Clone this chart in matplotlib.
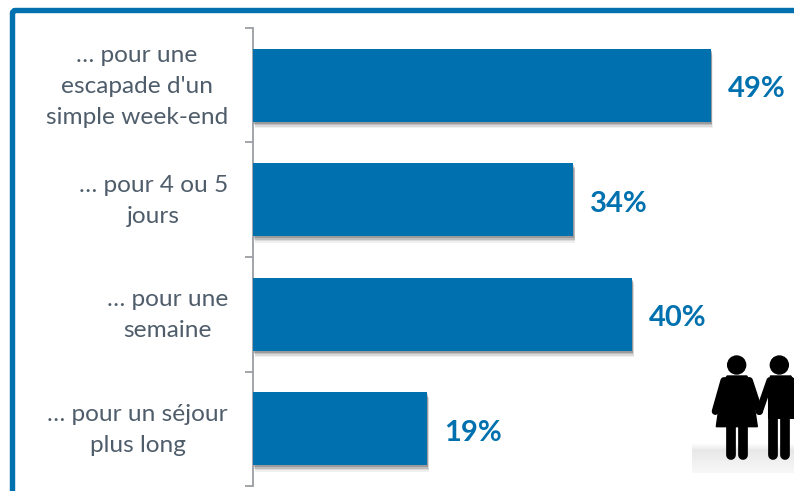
import numpy as np
import matplotlib
matplotlib.use("Agg")
import matplotlib.pyplot as plt
import matplotlib.patheffects as pe
from matplotlib.patches import Circle, Polygon, FancyBboxPatch

categories = ["… pour une\nescapade d'un\nsimple week-end", "… pour 4 ou 5\njours",
              "… pour une\nsemaine", "… pour un séjour\nplus long"]
values = [48.9, 34.2, 40.5, 18.6]
value_labels = ["49%", "34%", "40%", "19%"]

W, H = 794, 491
BLUE = "#0071AE"
TEXT = "#4F5D6B"
GRAY = "#9A9DA1"
plt.rcParams['font.family'] = ['Lato', 'DejaVu Sans']

fig = plt.figure(figsize=(W/100, H/100), dpi=100, facecolor="white")

ov = fig.add_axes([0, 0, 1, 1], zorder=0)
ov.set_xlim(0, W); ov.set_ylim(H, 0); ov.axis("off")
ov.add_patch(FancyBboxPatch((12.5, 10.5), W+40, H+40, boxstyle="round,pad=0,rounding_size=3",
                            fc="white", ec=BLUE, lw=3.9, clip_on=True))

left, right, top, bottom = 253, 784, 28, 486
ax = fig.add_axes([left/W, 1-bottom/H, (right-left)/W, (bottom-top)/H], zorder=2)
ax.patch.set_alpha(0)
y = np.arange(len(values))
bars = ax.barh(y, values, height=0.64, color=BLUE, zorder=3)
for b in bars:
    b.set_path_effects([
        pe.SimplePatchShadow(offset=(1.5, -4.5), shadow_rgbFace="#000000", alpha=0.06),
        pe.SimplePatchShadow(offset=(1.2, -3.5), shadow_rgbFace="#000000", alpha=0.09),
        pe.SimplePatchShadow(offset=(1.0, -2.5), shadow_rgbFace="#000000", alpha=0.13),
        pe.SimplePatchShadow(offset=(0.6, -1.5), shadow_rgbFace="#000000", alpha=0.18),
        pe.Normal()])
ax.set_xlim(0, (right-left)/9.36)
ax.set_ylim(len(values)-0.5, -0.5)
for s in ("top", "right", "bottom"):
    ax.spines[s].set_visible(False)
ax.spines["left"].set_color(GRAY)
ax.spines["left"].set_linewidth(1.3)
ax.set_xticks([])
ax.set_yticks(np.arange(len(values)+1)-0.5)
ax.set_yticklabels([])
ax.tick_params(axis="y", length=6, width=1.3, color=GRAY, direction="out")
for yi, c in zip(y, categories):
    ax.annotate(c, (0, yi), xytext=(-25, -1), xycoords="data", textcoords="offset pixels",
                ha="right", va="center", multialignment="center", fontsize=17.6,
                color=TEXT, linespacing=1.6, annotation_clip=False)
for yi, v, l in zip(y, values, value_labels):
    ax.annotate(l, (v, yi), xytext=(17, -4), textcoords="offset pixels", ha="left", va="center",
                fontsize=21, fontweight="bold", color=BLUE, annotation_clip=False)

ic = fig.add_axes([0, 0, 1, 1], zorder=1)
ic.set_xlim(0, W); ic.set_ylim(H, 0); ic.axis("off")
g = np.ones((30, 102))
g[:8, :] = np.linspace(1.0, 0.91, 8)[:, None]
g[8:, :] = np.linspace(0.91, 0.97, 22)[:, None]
ic.imshow(g, cmap="gray", vmin=0, vmax=1, extent=(692, 794, 473, 443), aspect="auto", zorder=0)
ic.set_xlim(0, W); ic.set_ylim(H, 0)

def Z(pts):
    return [(674 + a/3, 340 + b/3) for a, b in pts]

def limb(pts, w):
    xs, ys = zip(*Z(pts))
    ic.plot(xs, ys, color="black", lw=w, solid_capstyle="round", solid_joinstyle="round", zorder=2)

ic.add_patch(Circle(Z([(188, 75)])[0], 9, color="black", zorder=2))
ic.add_patch(Circle(Z([(316, 75)])[0], 9, color="black", zorder=2))
# woman
ic.add_patch(Polygon(Z([(160,108),(218,108),(230,125),(250,260),(127,260),(146,125)]), color="black", zorder=2))
limb([(150,122),(124,214)], 5.2)
limb([(226,122),(256,214)], 5.2)
limb([(171,255),(171,346)], 7.0)
limb([(206,255),(206,346)], 7.0)
# man
ic.add_patch(Polygon(Z([(290,108),(350,108),(362,125),(362,235),(284,235),(284,125)]), color="black", zorder=2))
limb([(288,122),(256,214)], 5.2)
limb([(298,225),(298,346)], 7.0)
limb([(334,225),(334,346)], 7.0)
limb([(352,122),(378,214)], 5.2)

fig.savefig("out.png", dpi=100, facecolor="white")
